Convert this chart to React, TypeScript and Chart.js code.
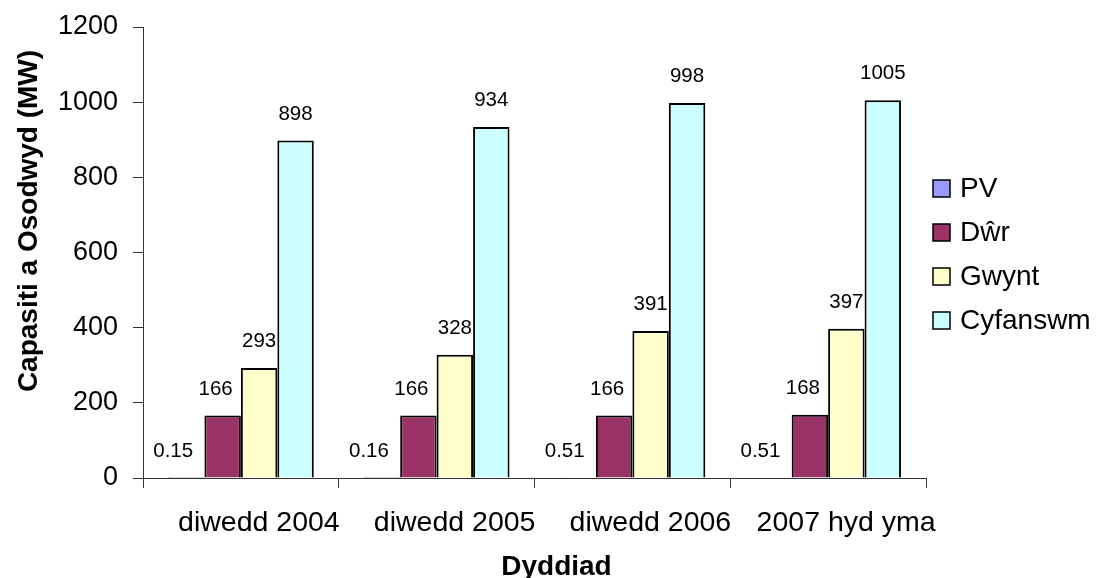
import React, { useEffect, useRef } from "react";
import { Chart, registerables } from "chart.js";

Chart.register(...registerables);

const categories = ["diwedd 2004", "diwedd 2005", "diwedd 2006", "2007 hyd yma"];
const seriesNames = ["PV", "Dŵr", "Gwynt", "Cyfanswm"];
const pvValues = [0.15, 0.16, 0.51, 0.51];
const dwrValues = [166, 166, 166, 168];
const gwyntValues = [293, 328, 391, 397];
const cyfanswmValues = [898, 934, 998, 1005];
const seriesColors = ["#9999FF", "#993366", "#FFFFCC", "#CCFFFF"];
const yTicks = [0, 200, 400, 600, 800, 1000, 1200];
const yTitle = "Capasiti a Osodwyd (MW)";
const xTitle = "Dyddiad";

const FONT = "'Liberation Sans', Arial, sans-serif";
const labelOffsets = [-13, -7, 0, 0];

const labelPlugin = {
  id: "barLabels",
  afterDatasetsDraw(chart: any) {
    const ctx = chart.ctx;
    ctx.save();
    ctx.font = `20.5px ${FONT}`;
    ctx.fillStyle = "#000";
    ctx.textAlign = "center";
    ctx.textBaseline = "middle";
    chart.data.datasets.forEach((ds: any, i: number) => {
      const meta = chart.getDatasetMeta(i);
      meta.data.forEach((bar: any, j: number) => {
        ctx.fillText(String(ds.data[j]), bar.x + labelOffsets[i], bar.y - 26.5);
      });
    });
    ctx.restore();
  },
};

const extrasPlugin = {
  id: "extras",
  afterDraw(chart: any) {
    const ctx = chart.ctx;
    const area = chart.chartArea;
    ctx.save();
    // legend
    ctx.font = `28px ${FONT}`;
    ctx.textAlign = "left";
    ctx.textBaseline = "middle";
    chart.data.datasets.forEach((ds: any, i: number) => {
      const cy = 188 + i * 44;
      const bx = area.right + 7;
      ctx.fillStyle = ds.backgroundColor;
      ctx.fillRect(bx, cy - 8, 17, 17);
      ctx.strokeStyle = "#000";
      ctx.lineWidth = 1.5;
      ctx.strokeRect(bx, cy - 8, 17, 17);
      ctx.fillStyle = "#000";
      ctx.fillText(ds.label, bx + 27, cy + 1);
    });
    // axis titles
    ctx.font = `bold 28px ${FONT}`;
    ctx.textAlign = "center";
    ctx.textBaseline = "alphabetic";
    ctx.fillText(xTitle, (area.left + area.right) / 2 + 22, chart.height - 3);
    ctx.translate(37, 221);
    ctx.rotate(-Math.PI / 2);
    ctx.fillText(yTitle, 0, 0);
    ctx.restore();
  },
};

export default function App() {
  const ref = useRef<HTMLCanvasElement>(null);
  useEffect(() => {
    if (!ref.current) return;
    const values = [pvValues, dwrValues, gwyntValues, cyfanswmValues];
    const chart = new Chart(ref.current, {
      type: "bar",
      data: {
        labels: categories,
        datasets: seriesNames.map((name, i) => ({
          label: name,
          data: values[i],
          backgroundColor: seriesColors[i],
          borderColor: "#000",
          borderWidth: 2,
          categoryPercentage: 0.745,
          barPercentage: 1,
        })),
      },
      options: {
        animation: false,
        responsive: false,
        devicePixelRatio: 1,
        layout: { padding: { left: 0, top: 27, right: 172, bottom: 0 } },
        plugins: { legend: { display: false }, tooltip: { enabled: false } },
        scales: {
          x: {
            grid: { drawOnChartArea: false, offset: true, tickLength: 10, color: "#333" },
            border: { display: true, color: "#333", width: 1 },
            ticks: { font: { family: FONT, size: 28.5 }, color: "#000", padding: 18, labelOffset: 18, maxRotation: 0, autoSkip: false },
            afterFit: (s: any) => { s.height = 100; s.paddingLeft = 0; s.paddingRight = 0; },
          },
          y: {
            min: 0,
            max: 1200,
            afterBuildTicks: (s: any) => { s.ticks = yTicks.map((v) => ({ value: v })); },
            grid: { drawOnChartArea: false, tickLength: 10, color: "#333" },
            border: { display: true, color: "#333", width: 1 },
            ticks: { font: { family: FONT, size: 27 }, color: "#000", padding: 15, callback: (v: any) => String(v) },
            afterFit: (s: any) => { s.width = 143; s.paddingTop = 0; s.paddingBottom = 0; },
          },
        },
      },
      plugins: [labelPlugin, extrasPlugin],
    });
    return () => chart.destroy();
  }, []);
  return (
    <div style={{ position: "fixed", left: 0, top: 0, width: 1098, height: 578, background: "#fff" }}>
      <canvas ref={ref} width={1098} height={578} />
    </div>
  );
}
